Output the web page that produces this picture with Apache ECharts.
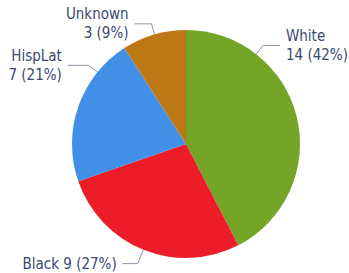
<!DOCTYPE html>
<html>
<head>
<meta charset="utf-8">
<script src="https://cdn.jsdelivr.net/npm/echarts@6/dist/echarts.min.js"></script>
<style>
  html, body { margin: 0; padding: 0; background: #fff; }
  #chart { width: 349px; height: 273px; }
</style>
</head>
<body>
<div id="chart"></div>
<script>
(function() {
  var categories = ['White', 'Black', 'HispLat', 'Unknown'];
  var counts = [14, 9, 7, 3];
  var colors = ['#74a527', '#ec1c28', '#418fe6', '#bd7816'];

  var total = counts.reduce(function(a, b) { return a + b; }, 0);
  var ink = '#3b4870';
  var rule = '#8a93aa';

  // pie geometry and label-line layout (angle clockwise from top, radial and horizontal lengths)
  var cx = 186, cy = 144, R = 114;
  var labelAngles = [38, 202, -51, -16];
  var lineLen1 = [11, 15, 11, 11];
  var lineLen2 = [17, 15, 21, 17];

  var data = categories.map(function(name, i) {
    return { name: name, value: counts[i], itemStyle: { color: colors[i] } };
  });

  var chart = echarts.init(document.getElementById('chart'), null, { renderer: 'svg' });
  chart.setOption({
    animation: false,
    series: [{
      type: 'pie',
      center: [cx, cy],
      radius: R,
      startAngle: 90,
      clockwise: true,
      data: data,
      label: {
        color: ink,
        fontFamily: '"Liberation Sans Narrow", "DejaVu Sans Condensed", sans-serif',
        fontSize: 15,
        lineHeight: 19,
        overflow: 'none',
        formatter: function(p) {
          var pct = Math.round(p.value / total * 100);
          if (p.name === 'Black') return p.name + ' ' + p.value + ' (' + pct + '%)';
          return p.name + '\n' + p.value + ' (' + pct + '%)';
        }
      },
      labelLine: {
        length: 11,
        length2: 17,
        lineStyle: { color: rule, width: 1 }
      },
      labelLayout: function(p) {
        var i = p.dataIndex;
        var a = labelAngles[i] * Math.PI / 180;
        var sx = Math.sin(a), sy = -Math.cos(a);
        var dir = sx >= 0 ? 1 : -1;
        var p0 = [cx + R * sx, cy + R * sy];
        var p1 = [cx + (R + lineLen1[i]) * sx, cy + (R + lineLen1[i]) * sy];
        var p2 = [p1[0] + dir * lineLen2[i], p1[1]];
        return {
          x: p2[0] + dir * 6,
          y: p2[1],
          align: dir > 0 ? 'left' : 'right',
          verticalAlign: 'middle',
          labelLinePoints: [p0, p1, p2]
        };
      }
    }]
  });
  window.addEventListener('resize', function() { chart.resize(); });
})();
</script>
</body>
</html>
